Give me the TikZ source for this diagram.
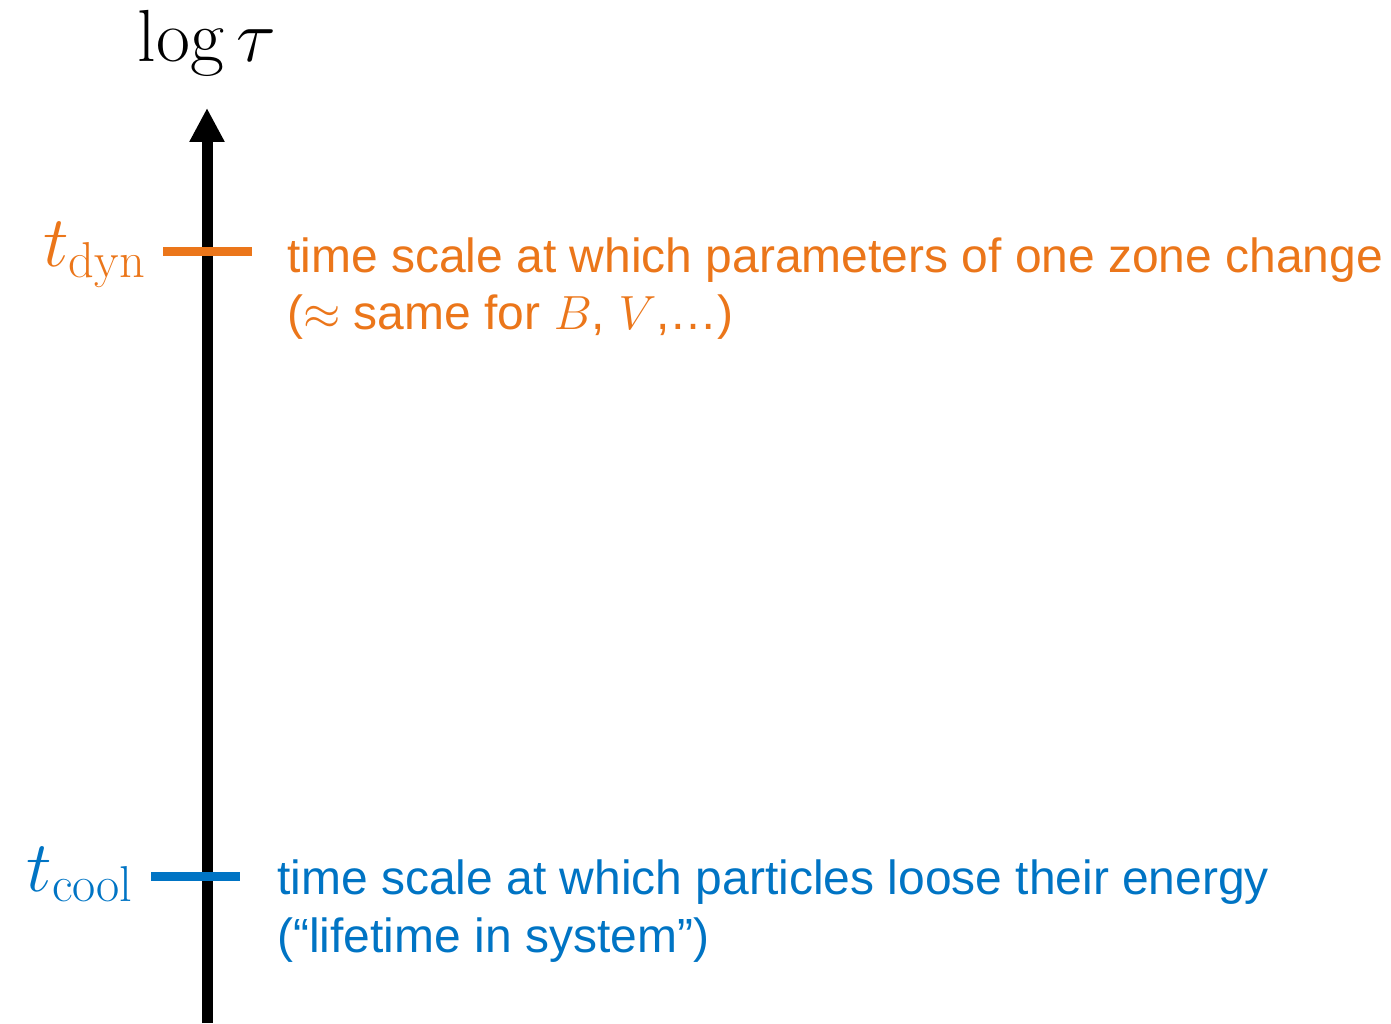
\RequirePackage{fix-cm}
\documentclass[tikz,border=0pt]{standalone}
\usepackage{fontspec}
\newfontfamily\labelfont{Liberation Sans}
\usetikzlibrary{arrows.meta}
\definecolor{dynorange}{HTML}{EB761A}
\definecolor{coolblue}{HTML}{0074C4}
\tikzset{
  axis/.style={line width=0.22cm, -{Triangle[length=0.68cm,width=0.66cm]}},
  timetick/.style={line width=0.18cm},
  desc/.style={inner sep=0pt, anchor=base west, align=left,
    font=\labelfont\fontsize{27.3}{33}\selectfont},
  timelabel/.style={inner sep=0pt, anchor=base east, font=\fontsize{41}{49}\selectfont},
}
\begin{document}
\begin{tikzpicture}[x=0.02cm,y=-0.02cm]
  \useasboundingbox (0,0) rectangle (1391,1023);
  \coordinate (axisbot) at (207,1023);
  \coordinate (axistop) at (207,108);
  \draw[axis] (axisbot) -- (axistop);
  \node[inner sep=0pt, anchor=base, font=\fontsize{42}{50}\selectfont] (logtau) at (207,62) {$\log\tau$};
  \draw[timetick, dynorange] (163,252) -- (252,252);
  \draw[timetick, coolblue] (151,876) -- (240,876);
  \node[timelabel, text=dynorange] (tdyn) at (146,267) {$t_{\mathrm{dyn}}$};
  \node[timelabel, text=coolblue] (tcool) at (133,891) {$t_{\mathrm{cool}}$};
  \node[desc, text=dynorange] (dyntext) at (287,330)
    {time scale at which parameters of one zone change\\($\approx$ same for $B$, $V$,…)};
  \node[desc, text=coolblue] (cooltext) at (277,952)
    {time scale at which particles loose their energy\\(“lifetime in system”)};
\end{tikzpicture}
\end{document}
